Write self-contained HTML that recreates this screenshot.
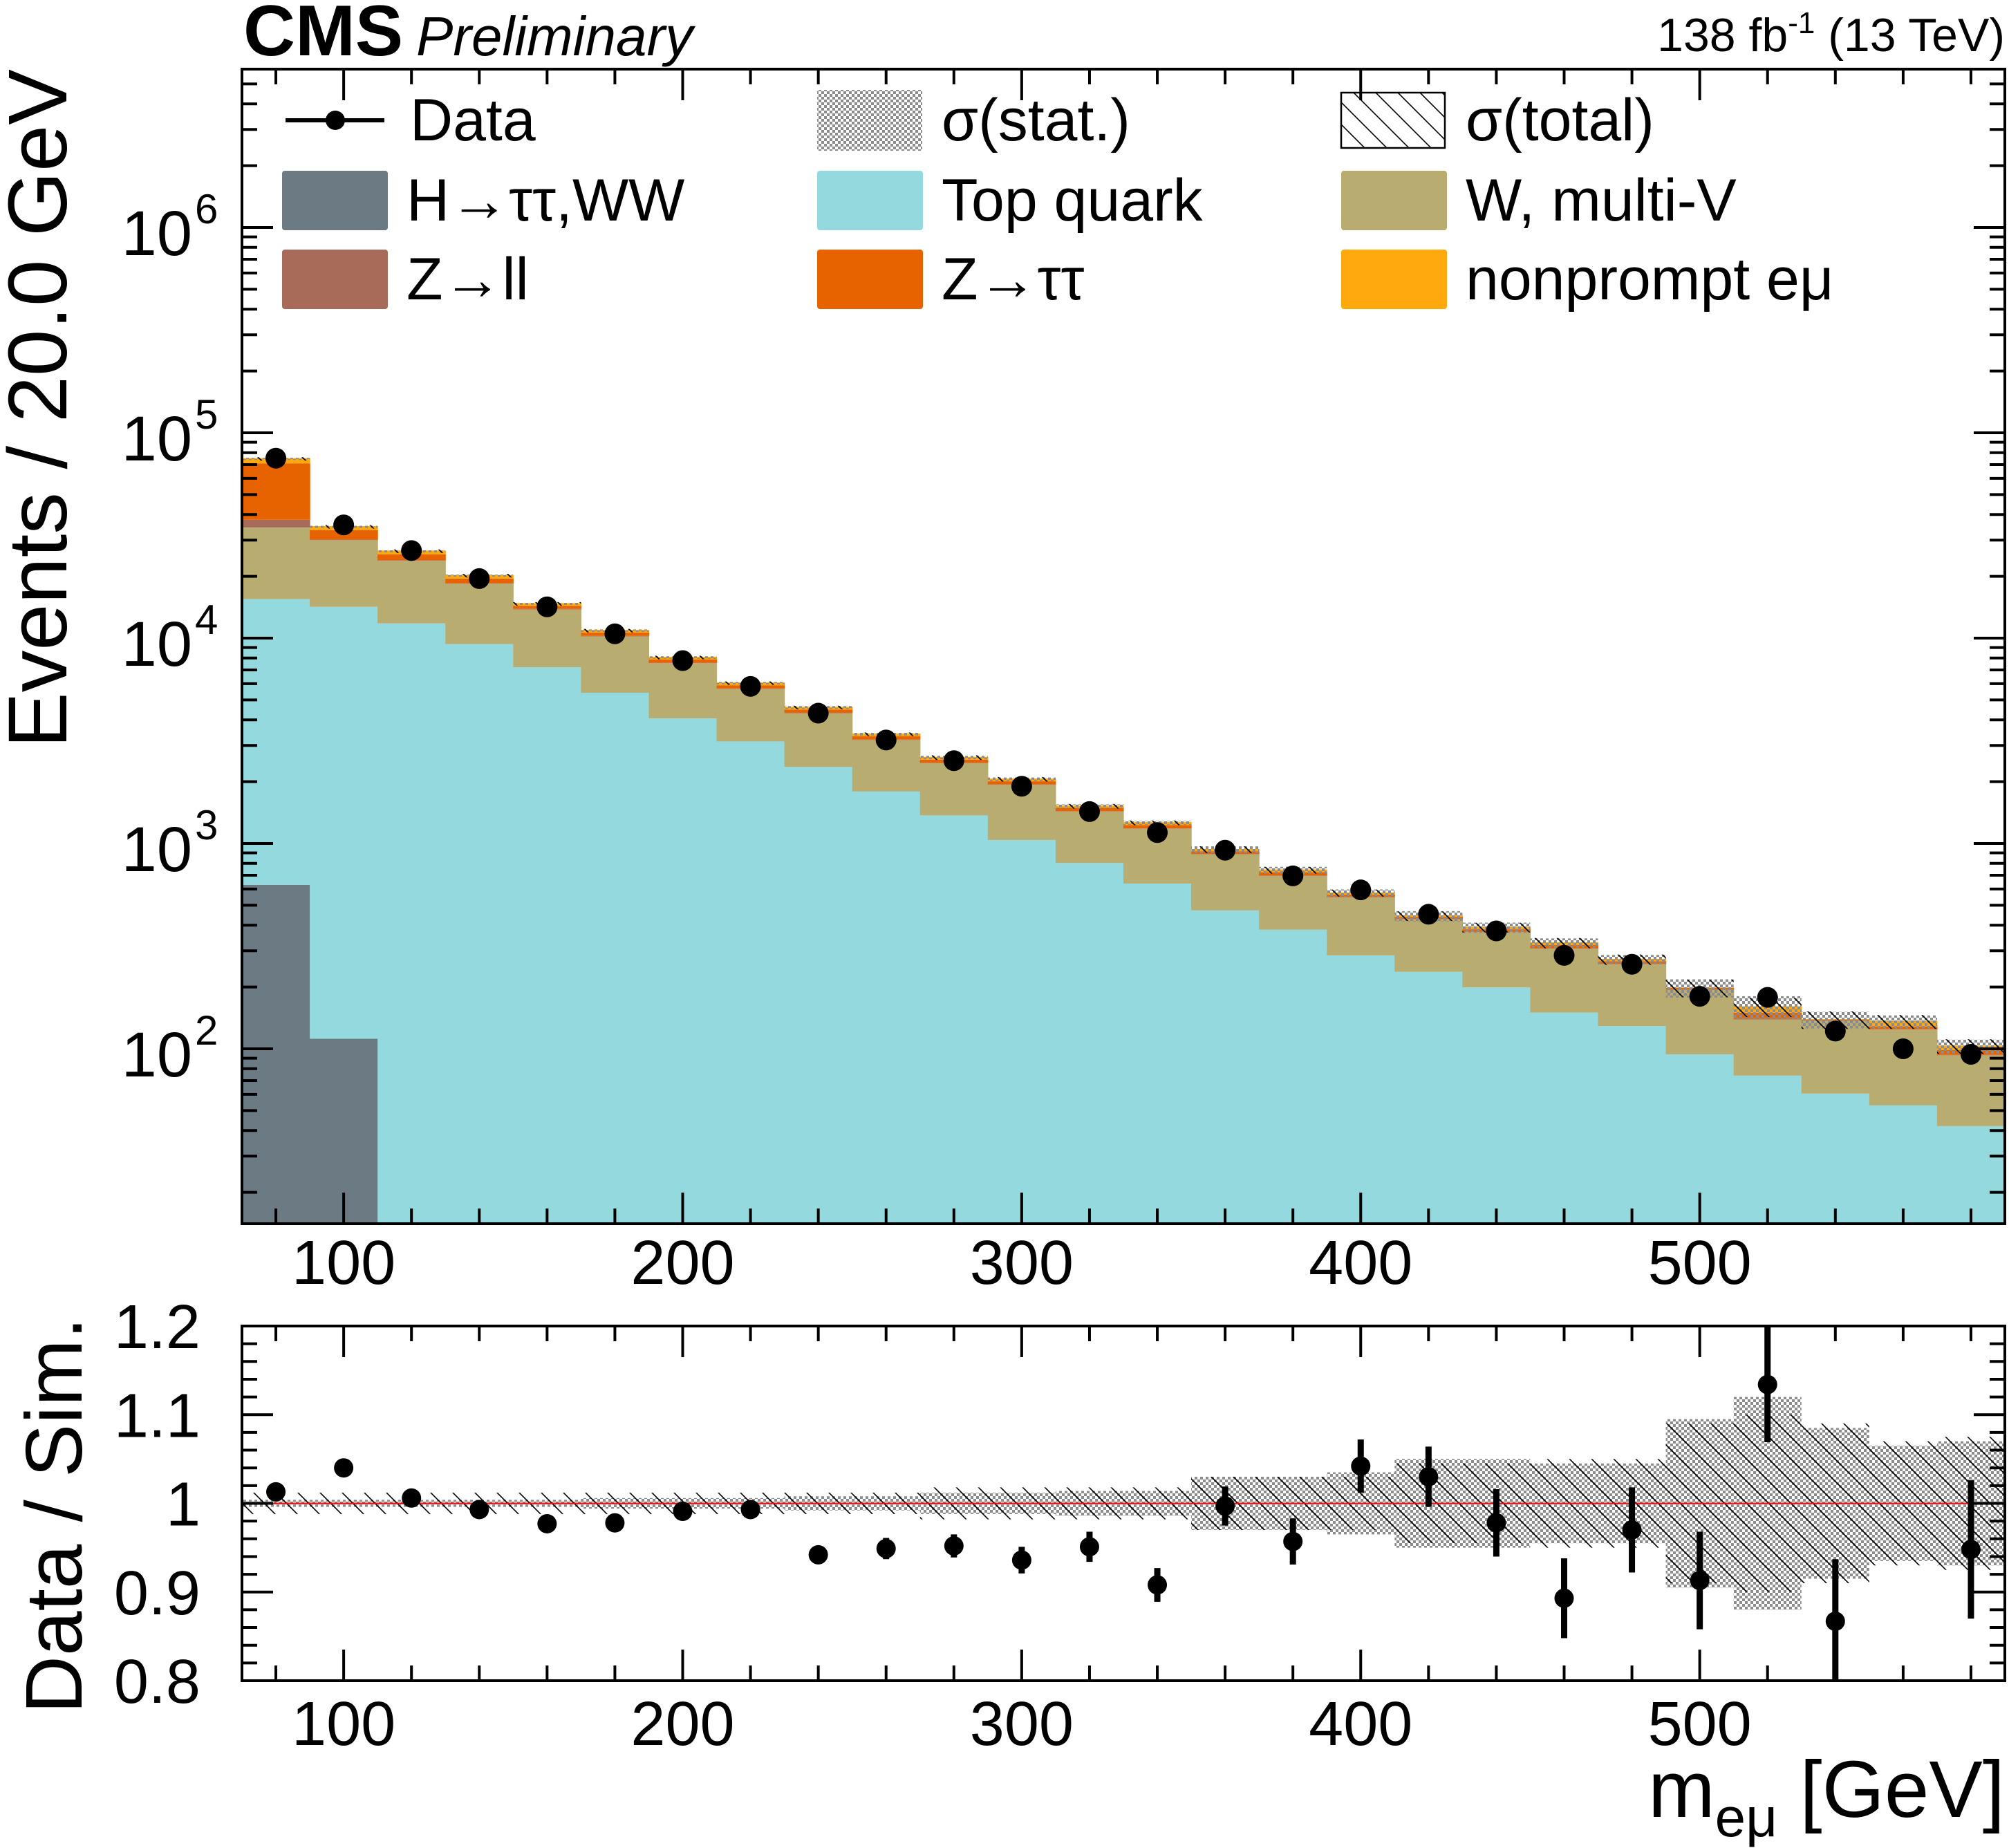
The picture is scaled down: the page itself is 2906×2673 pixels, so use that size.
<!DOCTYPE html>
<html><head><meta charset="utf-8"><style>
html,body{margin:0;padding:0;background:#fff;}
svg{display:block;font-family:"Liberation Sans",sans-serif;}
</style></head><body>
<svg id="chart" xmlns="http://www.w3.org/2000/svg" width="2906" height="2673" viewBox="0 0 2906 2673">
<defs>
<pattern id="stat" patternUnits="userSpaceOnUse" width="8" height="8"><rect x="0" y="0" width="4" height="4" fill="#8c8c8c"/><rect x="4" y="4" width="4" height="4" fill="#8c8c8c"/></pattern>
<pattern id="hatch" patternUnits="userSpaceOnUse" width="32" height="32"><path d="M-8,-8 L40,40 M-8,24 L8,40 M24,-8 L40,8" stroke="#000" stroke-width="1.6"/></pattern>
<clipPath id="mainclip"><rect x="350" y="100" width="2550" height="1670"/></clipPath>
<clipPath id="ratioclip"><rect x="350" y="1918" width="2550" height="513"/></clipPath>
</defs>
<g id="main-layer" clip-path="url(#mainclip)"></g>
<g id="ratio-layer" clip-path="url(#ratioclip)"></g>
<g id="axes-layer"></g>
<text x="352" y="80" font-size="104" font-weight="bold">CMS</text>
<text x="602" y="80" font-size="80" font-style="italic">Preliminary</text>
<text x="2900" y="74" font-size="68" text-anchor="end">138 fb<tspan dy="-26" font-size="44">-1</tspan><tspan dy="26"> (13 TeV)</tspan></text>
<text transform="translate(96,100) rotate(-90)" font-size="121" text-anchor="end">Events / 20.0 GeV</text>
<text transform="translate(118,1905) rotate(-90)" font-size="116" text-anchor="end">Data / Sim.</text>
<text x="2900" y="2628" font-size="116" text-anchor="end">m<tspan dy="28" font-size="80">eμ</tspan><tspan dy="-28"> [GeV]</tspan></text>
<g id="legend"></g>
</svg>
<script>
const binWidth = 20;
const binCenters = [80,100,120,140,160,180,200,220,240,260,280,300,320,340,360,380,400,420,440,460,480,500,520,540,560,580];
const hWW   = [629,112,5,5,5,5,5,5,5,5,5,5,5,5,5,5,5,5,5,5,5,5,5,5,5,5];
const topQ  = [14871,14088,11795,9355,7215,5415,4065,3135,2355,1785,1365,1035,798,633,467,375,280,232,194,145,124,89,69,55.5,48,37];
const wMultiV = [19100,15800,12000,9040,6580,4780,3480,2520,1950,1400,1090,890,627,542,415,315,260,190,171,157,129,100,65,76.5,71,51];
const zll   = [3100,200,150,100,70,50,35,25,20,15,10,8,6,5,3,3,2,2,1,1,1,1,1,0.5,0.5,0.5];
const ztt   = [33300,3400,1650,1000,500,380,280,210,160,120,90,70,50,45,27,26,16,10,11,12,8,3,10,1,4,5];
const nonprompt = [4200,1500,1100,800,430,330,245,185,140,105,80,62,44,40,23,23,14,7,10,10,7,1,11,1,8,5];
const dataVals = [75200,35600,26700,19500,14200,10500,7770,5820,4310,3190,2530,1900,1430,1130,927,695,594,452,375,285,258,180,178,122,100,94];
const ratioVals = [1.013,1.040,1.006,0.993,0.977,0.978,0.991,0.993,0.942,0.949,0.952,0.936,0.951,0.908,0.997,0.957,1.042,1.030,0.978,0.893,0.970,0.913,1.134,0.867,0.62,0.948];
const ratioErr = [0.005,0.006,0.006,0.006,0.007,0.007,0.008,0.009,0.01,0.012,0.013,0.015,0.017,0.019,0.022,0.026,0.03,0.034,0.038,0.045,0.048,0.055,0.065,0.07,0.08,0.078];
const statUnc = [0.004,0.004,0.004,0.004,0.004,0.006,0.006,0.006,0.008,0.008,0.012,0.012,0.014,0.014,0.03,0.03,0.035,0.05,0.05,0.045,0.045,0.095,0.12,0.085,0.065,0.07];
const totUnc  = [0.012,0.012,0.012,0.012,0.012,0.012,0.012,0.012,0.012,0.012,0.018,0.018,0.018,0.018,0.03,0.03,0.03,0.045,0.045,0.05,0.05,0.09,0.1,0.09,0.07,0.075];
const xTickLabels = [100,200,300,400,500];
const yDecades = [2,3,4,5,6];
const ratioTickLabels = ["0.8","0.9","1","1.1","1.2"];

const NS="http://www.w3.org/2000/svg";
const X = v => 350 + (v-70)*(2550/520);
const Y = v => 1517 - (Math.log10(Math.max(v,1e-3))-2)*297;
const R = r => 2174.5 - (r-1)*(513/0.4);
function mk(parent, tag, attrs){const e=document.createElementNS(NS,tag);for(const k in attrs)e.setAttribute(k,attrs[k]);parent.appendChild(e);return e;}
const main=document.getElementById('main-layer'), ratio=document.getElementById('ratio-layer'), axes=document.getElementById('axes-layer'), leg=document.getElementById('legend');

const comps=[[hWW,'#6c7a84','h-tautau-ww'],[topQ,'#94d9de','top-quark'],[wMultiV,'#b9ac70','w-multi-v'],[zll,'#a96b59','z-ll'],[ztt,'#e76300','z-tautau'],[nonprompt,'#ffa90e','nonprompt-emu']];
const totals=binCenters.map(()=>0);
comps.forEach(([arr,col,name])=>{
  binCenters.forEach((c,i)=>{
    const lo=totals[i], hi=lo+arr[i]; totals[i]=hi;
    const x0=X(c-binWidth/2), x1=X(c+binWidth/2);
    const y0=lo<=0?1800:Y(lo), y1=Y(hi);
    const r=mk(main,'rect',{x:x0,y:y1,width:x1-x0+0.6,height:Math.max(0,y0-y1),fill:col});
    
    
  });
});
binCenters.forEach((c,i)=>{
  const x0=X(c-binWidth/2), x1=X(c+binWidth/2), t=totals[i];
  const s=mk(main,'rect',{x:x0,y:Y(t*(1+statUnc[i])),width:x1-x0,height:Y(t*(1-statUnc[i]))-Y(t*(1+statUnc[i]))+2,fill:'url(#stat)'});
  
  
  const h=mk(main,'rect',{x:x0,y:Y(t*(1+totUnc[i])),width:x1-x0,height:Y(t*(1-totUnc[i]))-Y(t*(1+totUnc[i]))+2,fill:'url(#hatch)'});
  
  
});
binCenters.forEach((c,i)=>{
  const p=mk(main,'circle',{cx:X(c),cy:Y(dataVals[i]),r:15,fill:'#000'});
  
  
});
binCenters.forEach((c,i)=>{
  const x0=X(c-binWidth/2), x1=X(c+binWidth/2);
  const s=mk(ratio,'rect',{x:x0,y:R(1+statUnc[i]),width:x1-x0,height:R(1-statUnc[i])-R(1+statUnc[i]),fill:'url(#stat)'});
  
  
  const h=mk(ratio,'rect',{x:x0,y:R(1+totUnc[i]),width:x1-x0,height:R(1-totUnc[i])-R(1+totUnc[i]),fill:'url(#hatch)'});
  
  
});
const ul=mk(ratio,'line',{x1:350,x2:2900,y1:R(1),y2:R(1),stroke:'#ff0000','stroke-width':2});


binCenters.forEach((c,i)=>{
  const e=mk(ratio,'line',{x1:X(c),x2:X(c),y1:R(ratioVals[i]+ratioErr[i]),y2:R(ratioVals[i]-ratioErr[i]),stroke:'#000','stroke-width':9});
  
  
  const p=mk(ratio,'circle',{cx:X(c),cy:R(ratioVals[i]),r:14,fill:'#000'});
  
  
});
[[100,1770],[1918,2431]].forEach(([t,b],k)=>{
  const f=mk(axes,'rect',{x:350,y:t,width:2550,height:b-t,fill:'none',stroke:'#000','stroke-width':4});
  
  
  for(let v=80;v<=580;v+=20){
    const L=(v%100===0)?45:22;
    mk(axes,'line',{x1:X(v),x2:X(v),y1:b,y2:b-L,stroke:'#000','stroke-width':4});
    mk(axes,'line',{x1:X(v),x2:X(v),y1:t,y2:t+L,stroke:'#000','stroke-width':4});
  }
  xTickLabels.forEach(v=>{
    const tl=mk(axes,'text',{x:X(v),y:k?2524:1857,'font-size':90,'text-anchor':'middle'});
    tl.textContent=v;
    
    
  });
});
for(let d=1;d<=6;d++){for(let m=1;m<10;m++){
  const v=m*Math.pow(10,d), y=Y(v); if(y<100||y>1770) continue;
  const L=m===1?45:22;
  mk(axes,'line',{x1:350,x2:350+L,y1:y,y2:y,stroke:'#000','stroke-width':4});
  mk(axes,'line',{x1:2900,x2:2900-L,y1:y,y2:y,stroke:'#000','stroke-width':4});
}}
yDecades.forEach(d=>{
  const y=Y(Math.pow(10,d));
  const tl=mk(axes,'text',{x:278,y:y+40,'font-size':92,'text-anchor':'end'});
  tl.textContent='10';
  
  
  const ex=mk(axes,'text',{x:282,y:y-6,'font-size':60});
  ex.textContent=d;
  
  
});
for(let r=0.8;r<=1.2001;r+=0.02){
  const y=R(r), maj=Math.abs(r*10-Math.round(r*10))<1e-6, L=maj?45:22;
  mk(axes,'line',{x1:350,x2:350+L,y1:y,y2:y,stroke:'#000','stroke-width':4});
  mk(axes,'line',{x1:2900,x2:2900-L,y1:y,y2:y,stroke:'#000','stroke-width':4});
}
ratioTickLabels.forEach(s=>{
  const tl=mk(axes,'text',{x:290,y:R(parseFloat(s))+32,'font-size':90,'text-anchor':'end'});
  tl.textContent=s;
  
  
});
const legItems=[
 ['data',408,174,'Data'],['stat',1182,174,'σ(stat.)'],['total',1940,174,'σ(total)'],
 ['#6c7a84',408,290,'H→ττ,WW'],['#94d9de',1182,290,'Top quark'],['#b9ac70',1940,290,'W, multi-V'],
 ['#a96b59',408,404,'Z→ll'],['#e76300',1182,404,'Z→ττ'],['#ffa90e',1940,404,'nonprompt eμ']];
legItems.forEach(([kind,x,y,label])=>{
  const g=mk(leg,'g',{});
  
  
  if(kind==='data'){
    mk(g,'line',{x1:x+5,x2:x+148,y1:y,y2:y,stroke:'#000','stroke-width':6});
    mk(g,'circle',{cx:x+77,cy:y,r:14,fill:'#000'});
  } else if(kind==='stat'){
    mk(g,'rect',{x:x,y:y-44,width:152,height:88,fill:'url(#stat)'});
  } else if(kind==='total'){
    mk(g,'rect',{x:x,y:y-40,width:150,height:80,fill:'url(#hatch)',stroke:'#000','stroke-width':2.5});
  } else {
    mk(g,'rect',{x:x,y:y-43,width:153,height:86,fill:kind,rx:4});
  }
  const t=mk(g,'text',{x:x+(kind==='data'?185:180),y:y+29,'font-size':86});
  t.textContent=label;
});
</script>
</body></html>
